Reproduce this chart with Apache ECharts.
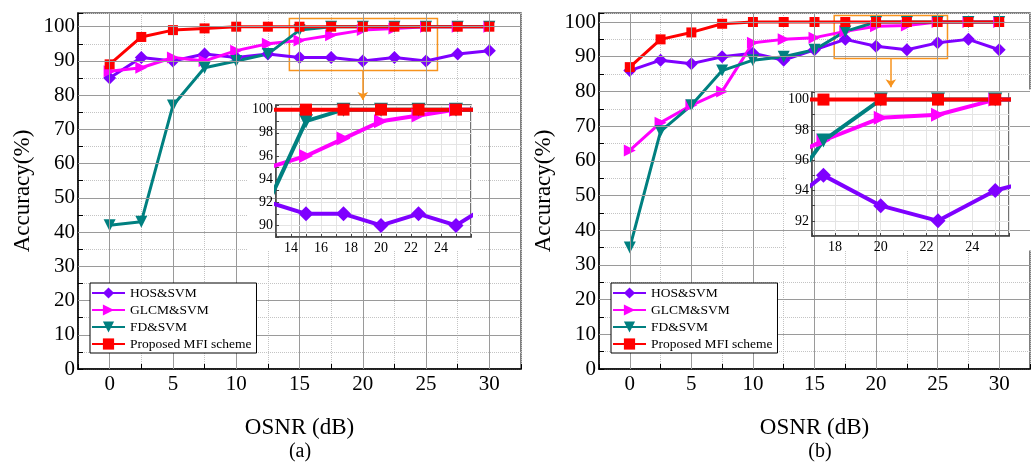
<!DOCTYPE html>
<html><head><meta charset="utf-8">
<script src="https://cdn.jsdelivr.net/npm/echarts@6/dist/echarts.min.js"></script>
<style>html,body{margin:0;padding:0;background:#fff;}#c{width:1033px;height:464px;}</style>
</head><body><div id="c"></div>
<script>
// ---- data ----
const osnr = [0, 2.5, 5, 7.5, 10, 12.5, 15, 17.5, 20, 22.5, 25, 27.5, 30];
const names = ['HOS&SVM', 'GLCM&SVM', 'FD&SVM', 'Proposed MFI scheme'];
// (a)
const hosA  = [85, 91, 90, 92, 91, 92, 91, 91, 90, 91, 90, 92, 93];
const glcmA = [87, 88, 91, 90, 93, 95, 96, 97.5, 99, 99.5, 100, 100, 100];
const fdA   = [42, 43, 77, 88, 90, 92, 99, 100, 100, 100, 100, 100, 100];
const mfiA  = [89, 97, 99, 99.5, 100, 100, 100, 100, 100, 100, 100, 100, 100];
// (b)
const hosB  = [86, 89, 88, 90, 91, 89, 92, 95, 93, 92, 94, 95, 92];
const glcmB = [63, 71, 76, 80, 94, 95, 95.5, 97.3, 98.8, 99, 100, 100, 100];
const fdB   = [35, 68.5, 76, 86, 89, 90, 92, 97.3, 100, 100, 100, 100, 100];
const mfiB  = [87, 95, 97, 99.5, 100, 100, 100, 100, 100, 100, 100, 100, 100];
// tick labels
const xTicks = [0, 5, 10, 15, 20, 25, 30];
const yTicks = [0, 10, 20, 30, 40, 50, 60, 70, 80, 90, 100];
const insetXTicksA = [14, 16, 18, 20, 22, 24];
const insetYTicksA = [90, 92, 94, 96, 98, 100];
const insetXTicksB = [18, 20, 22, 24];
const insetYTicksB = [92, 94, 96, 98, 100];
// zoom boxes (data coords)
const zoomBoxA = [[14.2, 102.4], [25.9, 87.2]];
const zoomArrowA = [[20, 87.2], [20, 78.6]];
const zoomBoxB = [[16.6, 101.9], [25.8, 89.5]];
const zoomArrowB = [[21.2, 89.5], [21.2, 81.2]];

// ---- styles ----
const FF = '"Liberation Serif", "Times New Roman", serif';
const colors = ['#7F00FF', '#FF00FF', '#008080', '#FF0000'];
const symbols = ['diamond', 'triangle', 'triangle', 'rect'];
const rots = [0, -90, 180, 0];
const mainSizes = [13, 12, 12, 10];
const insetSizes = [15, 14, 14, 12];
const ORANGE = '#F7931E';

function mkSeries(idx, data, axisIdx, inset) {
  return {
    type: 'line', name: names[idx], xAxisIndex: axisIdx, yAxisIndex: axisIdx,
    data: osnr.map((x, i) => [x, data[i]]),
    symbol: symbols[idx], symbolRotate: rots[idx],
    symbolSize: inset ? insetSizes[idx] : mainSizes[idx],
    showAllSymbol: true, clip: true,
    lineStyle: { color: colors[idx], width: inset ? 4 : 3 },
    itemStyle: { color: colors[idx] },
    z: inset ? 7 : 2, silent: true
  };
}

function mainX(g) {
  return {
    gridIndex: g, type: 'value', min: -2.5, max: 32.5, interval: 2.5,
    axisLine: { show: true, onZero: false, lineStyle: { color: '#000', width: 1.5 } },
    axisTick: { show: true, inside: true, length: 5, lineStyle: { color: '#000' } },
    axisLabel: { formatter: v => xTicks.includes(v) ? String(v) : '', color: '#000', fontSize: 21, fontFamily: FF, margin: 5 },
    splitLine: { show: true, lineStyle: { color: '#c4c4c4', type: 'dotted', width: 1 } },
    name: 'OSNR (dB)', nameLocation: 'middle', nameGap: 47,
    nameTextStyle: { color: '#000', fontSize: 23, fontFamily: FF }
  };
}
function mainY(g, ymax) {
  return {
    gridIndex: g, type: 'value', min: 0, max: ymax, interval: 5,
    axisLine: { show: true, onZero: false, lineStyle: { color: '#000', width: 1.5 } },
    axisTick: { show: true, inside: true, length: 5, lineStyle: { color: '#000' } },
    axisLabel: { formatter: v => yTicks.includes(v) ? String(v) : '', color: '#000', fontSize: 21, fontFamily: FF, margin: 3 },
    splitLine: { show: true, lineStyle: { color: '#c4c4c4', type: 'dotted', width: 1 } },
    name: 'Accuracy(%)', nameLocation: 'middle', nameGap: 44,
    nameTextStyle: { color: '#000', fontSize: 23, fontFamily: FF }
  };
}
function insetX(g, min, max, ticks) {
  return {
    gridIndex: g, type: 'value', min: min, max: max, interval: 1, z: 6,
    axisLine: { show: true, onZero: false, lineStyle: { color: '#444', width: 1.5 } },
    axisTick: { show: true, inside: true, length: 3, lineStyle: { color: '#444' } },
    axisLabel: { formatter: v => ticks.includes(v) ? String(v) : '', color: '#000', fontSize: 14, fontFamily: FF, margin: 4 },
    splitLine: { show: true, lineStyle: { color: '#e4e4e4', width: 1 } }
  };
}
function insetY(g, min, max, ticks) {
  return {
    gridIndex: g, type: 'value', min: min, max: max, interval: 1, z: 6,
    axisLine: { show: true, onZero: false, lineStyle: { color: '#444', width: 1.5 } },
    axisTick: { show: true, inside: true, length: 3, lineStyle: { color: '#444' } },
    axisLabel: { formatter: v => ticks.includes(v) ? String(v) : '', color: '#000', fontSize: 14, fontFamily: FF, margin: 3 },
    splitLine: { show: true, lineStyle: { color: '#e4e4e4', width: 1 } }
  };
}
function gridSeries(axisIdx) {
  return {
    type: 'line', name: '_grid' + axisIdx, xAxisIndex: axisIdx, yAxisIndex: axisIdx, data: [], z: 1, silent: true,
    markLine: {
      silent: true, symbol: 'none', label: { show: false }, animation: false,
      lineStyle: { color: '#9a9a9a', type: 'solid', width: 1 },
      emphasis: { disabled: true },
      data: xTicks.map(v => ({ xAxis: v })).concat(yTicks.filter(v => v > 0).map(v => ({ yAxis: v })))
    }
  };
}
function zoomSeries(axisIdx, box, arrow) {
  return {
    type: 'line', name: '_zoom' + axisIdx, xAxisIndex: axisIdx, yAxisIndex: axisIdx, data: [], z: 2, silent: true,
    markArea: {
      silent: true, label: { show: false },
      itemStyle: { color: 'rgba(0,0,0,0)', borderColor: ORANGE, borderWidth: 1.5 },
      data: [[{ coord: box[0] }, { coord: box[1] }]]
    },
    markLine: {
      silent: true, symbol: ['none', 'arrow'], symbolSize: 8, label: { show: false }, animation: false,
      lineStyle: { color: ORANGE, type: 'solid', width: 1.5 },
      data: [[{ coord: arrow[0] }, { coord: arrow[1] }]]
    }
  };
}
function legend(left) {
  return {
    data: names, left: left, top: 283, orient: 'vertical', itemGap: 3, itemWidth: 33, itemHeight: 14,
    backgroundColor: '#fff', borderColor: '#000', borderWidth: 1, borderRadius: 0, padding: [3, 5, 2, 1],
    textStyle: { fontFamily: FF, fontSize: 13.5, color: '#000' }, z: 8, selectedMode: false
  };
}

const option = {
  animation: false,
  backgroundColor: '#fff',
  grid: [
    { left: 78, top: 13, width: 443, height: 356, show: true, borderColor: '#555', borderWidth: 1.5, backgroundColor: 'rgba(0,0,0,0)' },
    { left: 599, top: 13, width: 443, height: 356, show: true, borderColor: '#555', borderWidth: 1.5, backgroundColor: 'rgba(0,0,0,0)' },
    { left: 276, top: 105, width: 195, height: 132, show: true, borderColor: '#444', borderWidth: 1.5, backgroundColor: '#fff', z: 5 },
    { left: 812, top: 92, width: 197, height: 144, show: true, borderColor: '#444', borderWidth: 1.5, backgroundColor: '#fff', z: 5 }
  ],
  xAxis: [mainX(0), mainX(1), insetX(2, 13, 26, insetXTicksA), insetX(3, 17, 25.6, insetXTicksB)],
  yAxis: [mainY(0, 104), mainY(1, 102.6), insetY(2, 89, 100.4, insetYTicksA), insetY(3, 91, 100.5, insetYTicksB)],
  legend: [legend(90), legend(611)],
  graphic: [
    { type: 'rect', shape: { x: 248, y: 103, width: 230, height: 147 }, style: { fill: '#fff' }, z: 3, silent: true },
    { type: 'rect', shape: { x: 786, y: 89.5, width: 247, height: 161 }, style: { fill: '#fff' }, z: 3, silent: true },
    { type: 'text', x: 300, y: 452, style: { text: '(a)', textAlign: 'center', textVerticalAlign: 'middle', font: '20px ' + FF, fill: '#000' }, z: 3 },
    { type: 'text', x: 820, y: 452, style: { text: '(b)', textAlign: 'center', textVerticalAlign: 'middle', font: '20px ' + FF, fill: '#000' }, z: 3 }
  ],
  series: [
    gridSeries(0), gridSeries(1),
    zoomSeries(0, zoomBoxA, zoomArrowA), zoomSeries(1, zoomBoxB, zoomArrowB),
    mkSeries(0, hosA, 0, false), mkSeries(1, glcmA, 0, false), mkSeries(2, fdA, 0, false), mkSeries(3, mfiA, 0, false),
    mkSeries(0, hosB, 1, false), mkSeries(1, glcmB, 1, false), mkSeries(2, fdB, 1, false), mkSeries(3, mfiB, 1, false),
    mkSeries(0, hosA, 2, true), mkSeries(1, glcmA, 2, true), mkSeries(2, fdA, 2, true), mkSeries(3, mfiA, 2, true),
    mkSeries(0, hosB, 3, true), mkSeries(1, glcmB, 3, true), mkSeries(2, fdB, 3, true), mkSeries(3, mfiB, 3, true)
  ]
};
const chart = echarts.init(document.getElementById('c'), null, { renderer: 'canvas' });
chart.setOption(option);
</script>
</body></html>
